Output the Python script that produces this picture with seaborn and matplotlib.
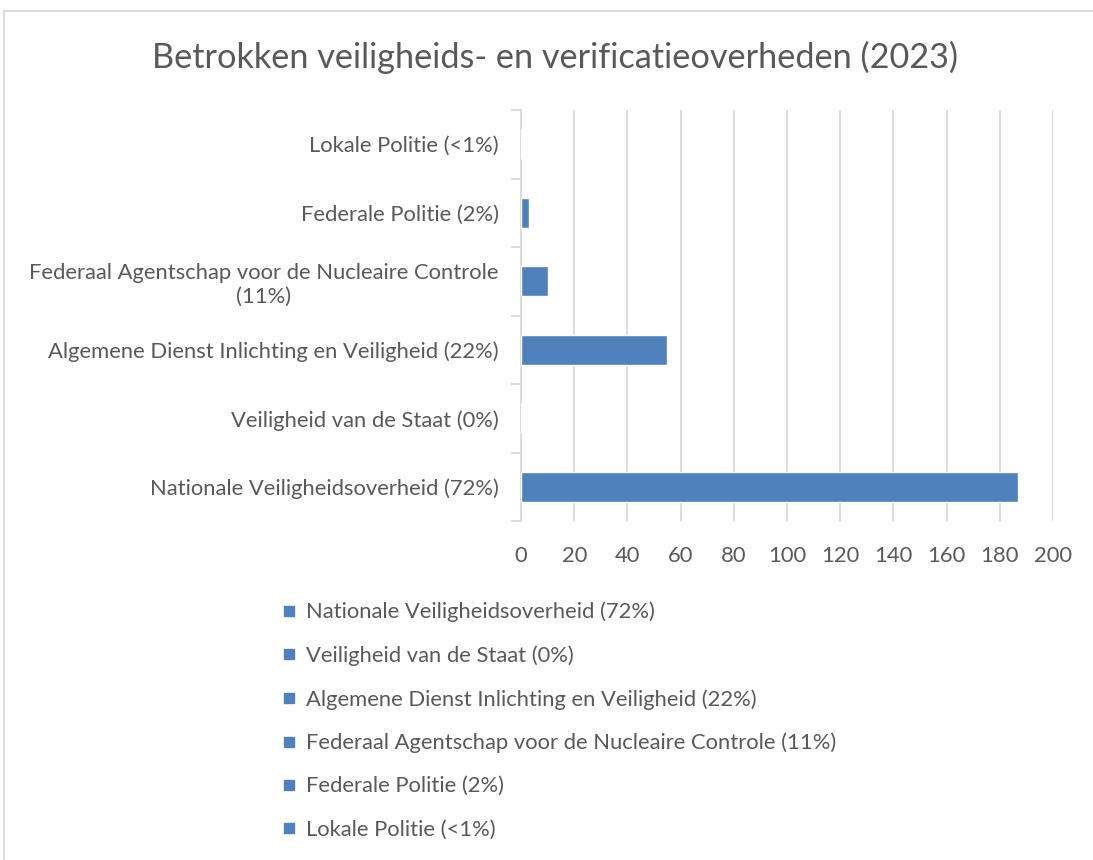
import numpy as np
import pandas as pd
import matplotlib
matplotlib.use("Agg")
import matplotlib.pyplot as plt
import seaborn as sns
from matplotlib.lines import Line2D
from matplotlib.patches import Rectangle
from matplotlib.ticker import FixedLocator

# data (series order as in the legend)
labels = ["Nationale Veiligheidsoverheid (72%)",
          "Veiligheid van de Staat (0%)",
          "Algemene Dienst Inlichting en Veiligheid (22%)",
          "Federaal Agentschap voor de Nucleaire Controle (11%)",
          "Federale Politie (2%)",
          "Lokale Politie (<1%)"]
# wrapped version for the axis
axis_labels = ["Nationale Veiligheidsoverheid (72%)",
               "Veiligheid van de Staat (0%)",
               "Algemene Dienst Inlichting en Veiligheid (22%)",
               "Federaal Agentschap voor de Nucleaire Controle\n(11%)",
               "Federale Politie (2%)",
               "Lokale Politie (<1%)"]
values = [187, 0, 55, 10, 3, 0]
x_ticks = [0, 20, 40, 60, 80, 100, 120, 140, 160, 180, 200]

bar_color = "#4F81BD"
text_color = "#595959"
grid_color = "#D9D9D9"

sns.set_theme(style="white")
plt.rcParams["font.family"] = ["Lato", "DejaVu Sans"]

df = pd.DataFrame({"label": axis_labels, "value": values})
order = list(reversed(axis_labels))

fig = plt.figure(figsize=(10.93, 8.6), dpi=100)
ax = fig.add_axes([521/1093, 1-521/860, (1053-521)/1093, (521-110)/860])

sns.barplot(data=df, x="value", y="label", order=order, color=bar_color,
            saturation=1, width=0.44, edgecolor="white", linewidth=1, ax=ax, zorder=3)

ax.set_xlim(0, 200)
ax.set_ylim(5.5, -0.5)
ax.set_xticks(x_ticks)
ax.xaxis.grid(True, color=grid_color, linewidth=1.3, zorder=0)
ax.set_axisbelow(True)
ax.set_xlabel("")
ax.set_ylabel("")
for s in ["top", "right", "bottom"]:
    ax.spines[s].set_visible(False)
ax.spines["left"].set_color(grid_color)
ax.spines["left"].set_linewidth(1.3)
ax.tick_params(axis="x", length=0, labelsize=15.8, labelcolor=text_color, pad=18)
ax.tick_params(axis="y", which="major", length=0, labelsize=15.8, labelcolor=text_color, pad=16)
ax.yaxis.set_minor_locator(FixedLocator(np.arange(-0.5, 6.0, 1.0)))
ax.tick_params(axis="y", which="minor", length=7, width=1.3, color=grid_color, left=True)
for t in ax.get_yticklabels():
    t.set_horizontalalignment("right")
    t.set_multialignment("center")

fig.text(555/1093, 1-57/860, "Betrokken veiligheids- en verificatieoverheden (2023)",
         ha="center", va="center", fontsize=24.7, color=text_color)

handles = [Line2D([], [], marker="s", linestyle="none", markersize=7,
                  markerfacecolor=bar_color, markeredgecolor=bar_color) for _ in labels]
leg = fig.legend(handles, labels, loc="upper left", bbox_to_anchor=(274/1093, 1-593/860),
                 frameon=False, fontsize=15.8, labelspacing=1.05, handlelength=0.6,
                 handletextpad=0.45, borderaxespad=0)
for t in leg.get_texts():
    t.set_color(text_color)

fig.patches.append(Rectangle((4/1093, -0.01), 1.0, 1-11/860+0.01, transform=fig.transFigure,
                             fill=False, edgecolor=grid_color, linewidth=1.3))

fig.savefig("out.png", dpi=100)
